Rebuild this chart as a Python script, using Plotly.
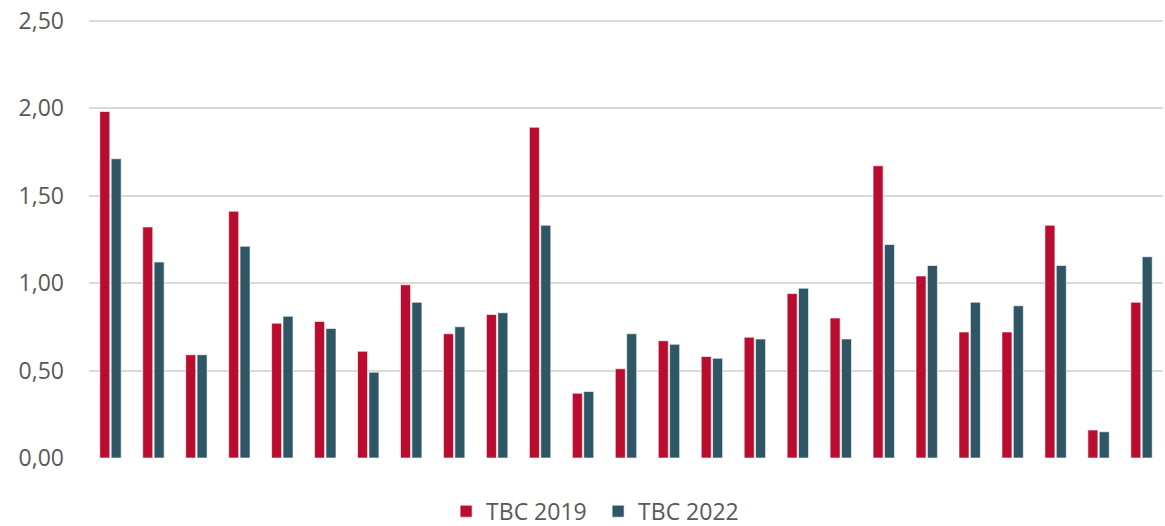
import plotly.graph_objects as go

categories = [str(i) for i in range(1, 26)]
tbc_2019 = [1.98, 1.32, 0.59, 1.41, 0.77, 0.78, 0.61, 0.99, 0.71, 0.82, 1.89, 0.37, 0.51,
            0.67, 0.58, 0.69, 0.94, 0.80, 1.67, 1.04, 0.72, 0.72, 1.33, 0.16, 0.89]
tbc_2022 = [1.71, 1.12, 0.59, 1.21, 0.81, 0.74, 0.49, 0.89, 0.75, 0.83, 1.33, 0.38, 0.71,
            0.65, 0.57, 0.68, 0.97, 0.68, 1.22, 1.10, 0.89, 0.87, 1.10, 0.15, 1.15]
series_names = ["TBC 2019", "TBC 2022"]
colors = ["#BA0C2F", "#2E5665"]

fig = go.Figure()
for name, vals, col in zip(series_names, [tbc_2019, tbc_2022], colors):
    fig.add_trace(go.Bar(
        x=categories, y=vals, name=name,
        marker=dict(color=col, line=dict(color="rgba(255,255,255,0.6)", width=1)),
    ))

fig.update_layout(
    width=1165, height=526,
    barmode="group", bargap=0.47, bargroupgap=0.12,
    plot_bgcolor="white", paper_bgcolor="white",
    separators=", ",
    font=dict(family="Open Sans", color="#595959", size=23),
    margin=dict(l=89, r=2, t=17, b=68, autoexpand=False),
    xaxis=dict(showticklabels=False, showgrid=False, zeroline=False, showline=False,
               automargin=False),
    yaxis=dict(range=[0, 2.52], tickvals=[0, 0.5, 1.0, 1.5, 2.0, 2.5], tickformat=".2f",
               showgrid=True, gridcolor="#D9D9D9", gridwidth=1.5, zeroline=False,
               showline=False, ticks="", ticklabelstandoff=24, automargin=False,
               tickfont=dict(size=23, color="#595959")),
    legend=dict(orientation="h", xref="container", x=0.5134, xanchor="center",
                y=-0.072, yanchor="top", entrywidth=107,
                font=dict(size=23, color="#595959"), itemwidth=30, traceorder="normal"),
)

fig.write_html(
    "out.html",
    config={"displayModeBar": False},
    post_script="document.body.style.margin='0';document.body.style.overflow='hidden';"
                "window.dispatchEvent(new Event('resize'));",
)
